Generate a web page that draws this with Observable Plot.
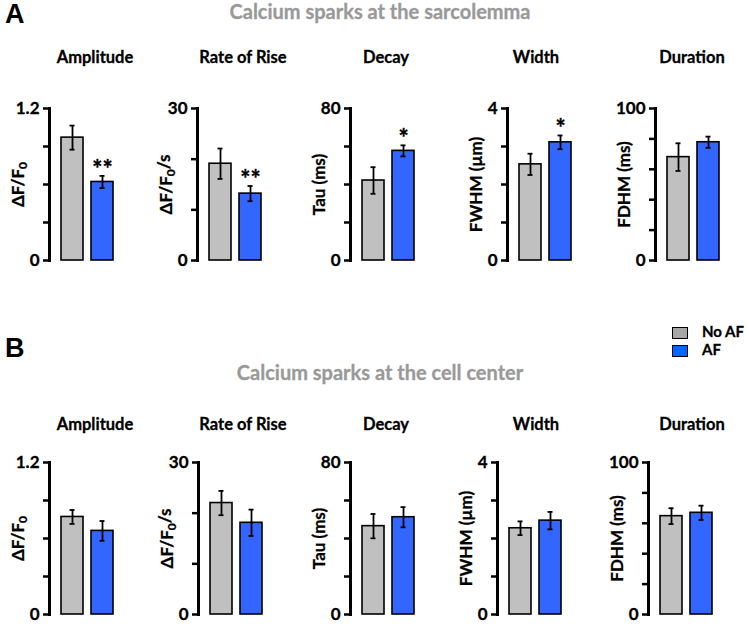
<!DOCTYPE html>
<html><head><meta charset="utf-8">
<script src="https://cdn.jsdelivr.net/npm/d3@7"></script>
<script src="https://cdn.jsdelivr.net/npm/@observablehq/plot@0.6"></script>
<style>
body{margin:0;background:#fff;}
#root{position:relative;width:747px;height:625px;overflow:hidden;font-family:Lato,"Open Sans",sans-serif;}
.abs{position:absolute;white-space:nowrap;}
.panel{font-weight:bold;font-size:16.5px;color:#000;transform:translateX(-50%);-webkit-text-stroke:0.3px #000;}
.head{font-weight:bold;font-size:20px;color:#999;transform:translateX(-50%);-webkit-text-stroke:0.3px #999;}
.letter{font-family:"Liberation Sans",Arial,sans-serif;font-weight:bold;font-size:27px;color:#000;}
.leg{font-weight:bold;font-size:15px;-webkit-text-stroke:0.3px #000;}
.box{position:absolute;width:14px;height:10px;border:1.5px solid #000;}
svg text{font-family:Lato,"Open Sans",sans-serif;}
</style></head>
<body><div id="root"></div>
<script>
const groups = ["No AF", "AF"];
const colors = ["#c0c0c0", "#3366ff"];
const panelTitles = ["Amplitude", "Rate of Rise", "Decay", "Width", "Duration"];
const yLabels = ["ΔF/F0", "ΔF/F0/s", "Tau (ms)", "FWHM (µm)", "FDHM (ms)"];
const yMax = [1.2, 30, 80, 4, 100];
const yTickStep = [0.3, 10, 20, 1, 20];
const rowHeadings = ["Calcium sparks at the sarcolemma", "Calcium sparks at the cell center"];
const rowLetters = ["A", "B"];
// Sarcolemma: [No AF, AF]
const sarcMean = [[0.97, 0.62], [19.1, 13.2], [42.1, 57.7], [2.53, 3.11], [68.0, 77.8]];
const sarcErr  = [[0.095, 0.048], [3.0, 1.5], [7.0, 2.9], [0.28, 0.18], [9.1, 3.7]];
const sarcSig  = [["", "**"], ["", "**"], ["", "*"], ["", "*"], ["", ""]];
// Cell center
const centMean = [[0.77, 0.66], [22.0, 18.1], [46.5, 51.2], [2.27, 2.47], [64.7, 66.9]];
const centErr  = [[0.055, 0.078], [2.4, 2.6], [6.4, 5.3], [0.18, 0.23], [5.2, 4.7]];
const centSig  = [["", ""], ["", ""], ["", ""], ["", ""], ["", ""]];

// layout
const axisXA = [49, 197, 350, 507, 655];
const axisXB = [49, 198, 350, 497, 648];
const titleXA = [95, 243, 386, 536, 692];
const titleXB = [95, 243, 386, 536, 692];
const rowTop = [108, 462];
const titleY = [47, 414];
const headY = [-1, 360];
const letterY = [-1, 333];
const mL = 50, mT = 10, mB = 10, W = 150, innerH = 152;

const root = document.getElementById("root");
function addDiv(cls, text, x, y){
  const d = document.createElement("div");
  d.className = "abs " + cls; d.textContent = text;
  d.style.left = x + "px"; d.style.top = y + "px";
  root.appendChild(d); return d;
}

const rows = [
  {mean: sarcMean, err: sarcErr, sig: sarcSig, axisX: axisXA, titleX: titleXA},
  {mean: centMean, err: centErr, sig: centSig, axisX: axisXB, titleX: titleXB}
];

rows.forEach((row, r) => {
  addDiv("letter", rowLetters[r], 5, letterY[r]);
  addDiv("head", rowHeadings[r], 380, headY[r]);
  panelTitles.forEach((t, i) => {
    addDiv("panel", t, row.titleX[i], titleY[r]);
    const data = groups.map((g, k) => ({group: g, mean: row.mean[i][k], err: row.err[i][k], sig: row.sig[i][k], color: colors[k]}));
    const ticks = d3.range(0, yMax[i] + yTickStep[i] / 2, yTickStep[i]);
    const labTicks = [0, yMax[i]];
    const plot = Plot.plot({
      width: W, height: mT + innerH + mB,
      marginLeft: mL, marginRight: W - mL - 77, marginTop: mT, marginBottom: mB,
      x: {domain: groups, paddingInner: 0.26, paddingOuter: 0.39, axis: null},
      y: {domain: [0, yMax[i]], nice: false},
      marks: [
        Plot.frame({anchor: "left", strokeWidth: 3}),
        Plot.axisY({ticks: ticks, tickSize: 6, tickFormat: () => "", strokeWidth: 2.5, label: null}),
        Plot.axisY({ticks: labTicks, tickSize: 0, tickPadding: 10, fontSize: 17, fontWeight: "bold",
          tickFormat: d => d3.format("~g")(d),
          label: yLabels[i], labelAnchor: "center", labelArrow: "none", labelOffset: 38}),
        Plot.barY(data, {x: "group", y: "mean", fill: "color", stroke: "#000", strokeWidth: 1.6}),
        Plot.ruleX(data, {x: "group", y1: d => d.mean - d.err, y2: d => d.mean + d.err, stroke: "#000", strokeWidth: 1.8}),
        Plot.tickY(data, {x: "group", y: d => d.mean - d.err, stroke: "#000", strokeWidth: 1.8, insetLeft: 8.5, insetRight: 8.5}),
        Plot.tickY(data, {x: "group", y: d => d.mean + d.err, stroke: "#000", strokeWidth: 1.8, insetLeft: 8.5, insetRight: 8.5}),
        Plot.text(data, {x: "group", y: d => d.mean + d.err, text: "sig", dy: 2, lineAnchor: "bottom", fontSize: 24, fontWeight: "bold", fill: "#000", stroke: "#000", strokeWidth: 0.4})
      ]
    });
    plot.style.position = "absolute";
    plot.style.left = (row.axisX[i] - mL) + "px";
    plot.style.top = (rowTop[r] - mT) + "px";
    plot.style.overflow = "visible";
    // axis label styling & subscript
    d3.select(plot).selectAll("[aria-label='y-axis label'] text").each(function(){
      const el = d3.select(this);
      const txt = el.text();
      el.attr("font-size", 17).attr("font-weight", "bold").attr("fill", "#000")
        .attr("stroke", "#000").attr("stroke-width", 0.3);
      if (txt.startsWith("ΔF/F0")) {
        el.text(null);
        el.append("tspan").text("ΔF/F");
        el.append("tspan").text("0").attr("font-size", 12).attr("dy", "0.3em");
        const rest = txt.slice(5);
        if (rest) el.append("tspan").text(rest).attr("dy", "-0.3em").attr("font-size", 17);
      }
    });
    d3.select(plot).selectAll("[aria-label='y-axis tick label'] text")
      .attr("fill", "#000").attr("stroke", "#000").attr("stroke-width", 0.3);
    root.appendChild(plot);
  });
});

// legend
const legX = 672, legY = [327, 345];
groups.forEach((g, k) => {
  const b = document.createElement("div");
  b.className = "box";
  b.style.left = legX + "px"; b.style.top = legY[k] + "px";
  b.style.background = k === 0 ? "#a6a6a6" : "#0066ff";
  root.appendChild(b);
  addDiv("leg", g, 702, legY[k] - 5);
});
</script></body></html>
